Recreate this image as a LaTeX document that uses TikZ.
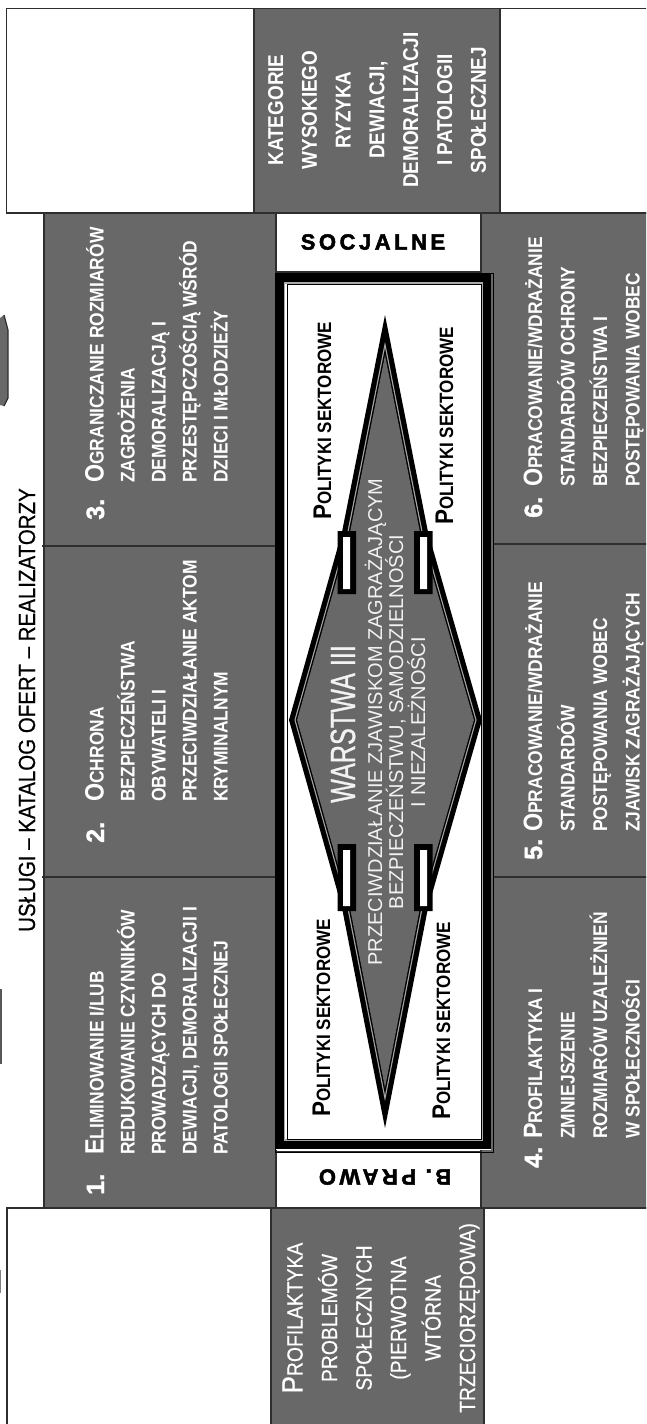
\documentclass[tikz,border=0pt]{standalone}
\usepackage{fontspec}
\setmainfont{Liberation Sans}
\newfontfamily\heavyfont[FakeBold=1.6]{Liberation Sans Bold}
\newfontfamily\spacedfont[FakeBold=2.2,LetterSpace=16]{Liberation Sans Bold}
\newfontfamily\narrowfont[FakeStretch=0.72,FakeBold=0.8]{Liberation Sans}
\newfontfamily\cellfont[FakeStretch=0.88]{Liberation Sans Bold}
\newfontfamily\plainnarrow[FakeStretch=0.88,FakeBold=0.5]{Liberation Sans}
\definecolor{cellgray}{HTML}{686868}
\definecolor{rulecol}{HTML}{2E2E2E}
\definecolor{halo}{HTML}{A9A9A9}
\definecolor{paletext}{HTML}{F2F2F2}
% enlarged first letter of a small-caps line
\newcommand\capinit[2][26.5]{{\fontsize{#1}{20}\selectfont#2}}
% outline of the layer-III shape, shrunk inwards by #1
\newcommand\layershape[1]{(385,{315+5.15*#1}) -- ({342+1.03*#1},532) -- ({289+1.04*#1},720) -- ({342+1.03*#1},908) -- (385,{1128-5.15*#1}) -- ({428-1.03*#1},908) -- ({482-1.04*#1},720) -- ({428-1.03*#1},532) -- cycle}
\tikzset{
  whitecell/.style={fill=white, draw=rulecol, line width=1.3pt},
  graycell/.style={fill=cellgray, draw=rulecol, line width=1.3pt},
  rulel/.style={draw=rulecol, line width=1.3pt},
  celltext/.style={rotate=90, anchor=base west, inner sep=0pt, text=white,
    font=\fontsize{19.8}{20}\cellfont},
  sectortext/.style={rotate=90, anchor=base west, inner sep=0pt, text=black,
    font=\fontsize{19.3}{20}\cellfont},
  numtext/.style={rotate=90, anchor=base west, inner sep=0pt, text=white,
    font=\fontsize{25}{28}\heavyfont},
  bandtext/.style={inner sep=0pt, text=black, font=\fontsize{22}{24}\spacedfont},
  layertext/.style={rotate=90, anchor=base, inner sep=0pt, text=paletext,
    font=\fontsize{20}{22}\selectfont},
  slot/.style={fill=black},
  slotgap/.style={fill=white},
}
\begin{document}
\begin{tikzpicture}[x=1pt,y=-1pt]
\useasboundingbox (0,0) rectangle (646,1424);
\fill[white] (0,0) rectangle (646,1424);
\begin{scope}
\clip (0,0) rectangle (646,1424);

% fragments of neighbouring shapes at the left edge
\fill[cellgray] (0,318) -- (4,315) -- (8,330) -- (8,398) -- (4,406) -- (0,405) -- cycle;
\draw[rulecol, line width=1.2pt] (4,315) -- (8,330) -- (8,398) -- (4,406);
\draw[rulecol!80, line width=2pt] (1,989) -- (1,1064);
\draw[gray, line width=1.5pt] (0.5,1270) -- (0.5,1293);

% top row
\path[whitecell] (6.5,8.5) rectangle (254,213);
\path[graycell] (254,8.5) rectangle (500,213);
\path[whitecell] (500,8.5) rectangle (652,213);
\node[rotate=90, align=center, inner sep=0pt, text=white,
  font=\fontsize{21.5}{33.8}\cellfont] (risk) at (377,110)
  {KATEGORIE\\WYSOKIEGO\\RYZYKA\\DEWIACJI,\\DEMORALIZACJI\\I PATOLOGII\\SPOŁECZNEJ};

% left column: goals 1-3
\path[graycell] (44,213) rectangle (276,1208);
\path[rulel] (42,546) -- (276,546) (42,877) -- (276,877);
% right column: goals 4-6
\path[graycell] (481,213) rectangle (652,1208);
\path[rulel] (493,544) -- (652,544) (493,877) -- (652,877);

% bands above and below the frame
\path[whitecell] (276,213) rectangle (481,272);
\path[whitecell] (276,1152) rectangle (481,1208);
\node[bandtext] (social) at (373,242) {SOCJALNE};
\node[bandtext, rotate=180] (law) at (385,1177) {B. PRAWO};

% double frame round the sector policies
\fill[white] (276,273) rectangle (491,1150);
\draw[black, line width=8pt] (279.5,278) rectangle (487,1144.5);
\draw[halo, line width=1.4pt] (284.5,283) rectangle (482,1140);
\draw[black, line width=0.9pt] (287,284.5) rectangle (481,1139);
\draw[black, line width=0.9pt] (275,273) rectangle (493,1152);

% layer III shape
\fill[black] \layershape{0};
\fill[halo] \layershape{5.2};
\fill[black] \layershape{6.4};
\fill[cellgray] \layershape{7.8};
\path[slot] (337.5,531) rectangle (356,594) (414,531) rectangle (432.5,594);
\path[slot] (337.5,844) rectangle (356,911) (414,844) rectangle (432.5,911);
\path[slotgap] (343,537) rectangle (350,589) (420,537) rectangle (427,589);
\path[slotgap] (343,850) rectangle (350,906) (420,850) rectangle (427,906);

\node[rotate=90, anchor=base, inner sep=0pt, text=paletext,
  font=\fontsize{35}{36}\narrowfont] (layer) at (355,724) {WARSTWA III};
\node[layertext] (aim1) at (382,722) {PRZECIWDZIAŁANIE ZJAWISKOM ZAGRAŻAJĄCYM};
\node[layertext] (aim2) at (403,722) {BEZPIECZEŃSTWU, SAMODZIELNOŚCI};
\node[layertext] (aim3) at (425,722) {I NIEZALEŻNOŚCI};

% sector policies
\node[sectortext] (pol1) at (331,520) {\capinit[25.5]{P}OLITYKI SEKTOROWE};
\node[sectortext] (pol2) at (453,525) {\capinit[25.5]{P}OLITYKI SEKTOROWE};
\node[sectortext] (pol3) at (330,1117) {\capinit[25.5]{P}OLITYKI SEKTOROWE};
\node[sectortext] (pol4) at (450,1120) {\capinit[25.5]{P}OLITYKI SEKTOROWE};

% goals 1-3
\node[numtext] (n1) at (104,1195) {1.};
\foreach \txt [count=\i] in {{\capinit{E}LIMINOWANIE I/LUB},{REDUKOWANIE CZYNNIKÓW},{PROWADZĄCYCH DO},{DEWIACJI, DEMORALIZACJI I},{PATOLOGII SPOŁECZNEJ}}
  \node[celltext] (g1-\i) at ({72.5+31*\i},1155) {\txt};
\node[numtext] (n2) at (104,843) {2.};
\foreach \txt [count=\i] in {{\capinit{O}CHRONA},{BEZPIECZEŃSTWA},{OBYWATELI I},{PRZECIWDZIAŁANIE AKTOM},{KRYMINALNYM}}
  \node[celltext] (g2-\i) at ({72.5+31*\i},802) {\txt};
\node[numtext] (n3) at (104,520) {3.};
\foreach \txt [count=\i] in {{\capinit{O}GRANICZANIE ROZMIARÓW},{ZAGROŻENIA},{DEMORALIZACJĄ I},{PRZESTĘPCZOŚCIĄ WŚRÓD},{DZIECI I MŁODZIEŻY}}
  \node[celltext] (g3-\i) at ({72.5+31*\i},483) {\txt};

% goals 4-6
\node[numtext] (n4) at (542,1168) {4.};
\foreach \txt [count=\i] in {{\capinit{P}ROFILAKTYKA I},{ZMNIEJSZENIE},{ROZMIARÓW UZALEŻNIEŃ},{W SPOŁECZNOŚCI}}
  \node[celltext] (g4-\i) at ({509.5+32.5*\i},1139) {\txt};
\node[numtext] (n5) at (542,860) {5.};
\foreach \txt [count=\i] in {{\capinit{O}PRACOWANIE/WDRAŻANIE},{STANDARDÓW},{POSTĘPOWANIA WOBEC},{ZJAWISK ZAGRAŻAJĄCYCH}}
  \node[celltext] (g5-\i) at ({509.5+32.5*\i},832) {\txt};
\node[numtext] (n6) at (542,518) {6.};
\foreach \txt [count=\i] in {{\capinit{O}PRACOWANIE/WDRAŻANIE},{STANDARDÓW OCHRONY},{BEZPIECZEŃSTWA I},{POSTĘPOWANIA WOBEC}}
  \node[celltext] (g6-\i) at ({509.5+32.5*\i},487) {\txt};

% heading along the left edge
\node[rotate=90, anchor=base, inner sep=0pt, text=black,
  font=\fontsize{23.3}{24}\plainnarrow] (services) at (35,710)
  {USŁUGI – KATALOG OFERT – REALIZATORZY};

% bottom row
\path[whitecell] (7,1208) rectangle (271,1432);
\path[graycell] (271,1208) rectangle (484,1432);
\path[whitecell] (484,1208) rectangle (652,1432);
\node[rotate=90, align=center, inner sep=0pt, text=white,
  font=\fontsize{22}{34.5}\plainnarrow] (prevention) at (381,1318)
  {\capinit[29.5]{P}ROFILAKTYKA\\PROBLEMÓW\\SPOŁECZNYCH\\(PIERWOTNA\\WTÓRNA\\TRZECIORZĘDOWA)};
\end{scope}
\end{tikzpicture}
\end{document}
